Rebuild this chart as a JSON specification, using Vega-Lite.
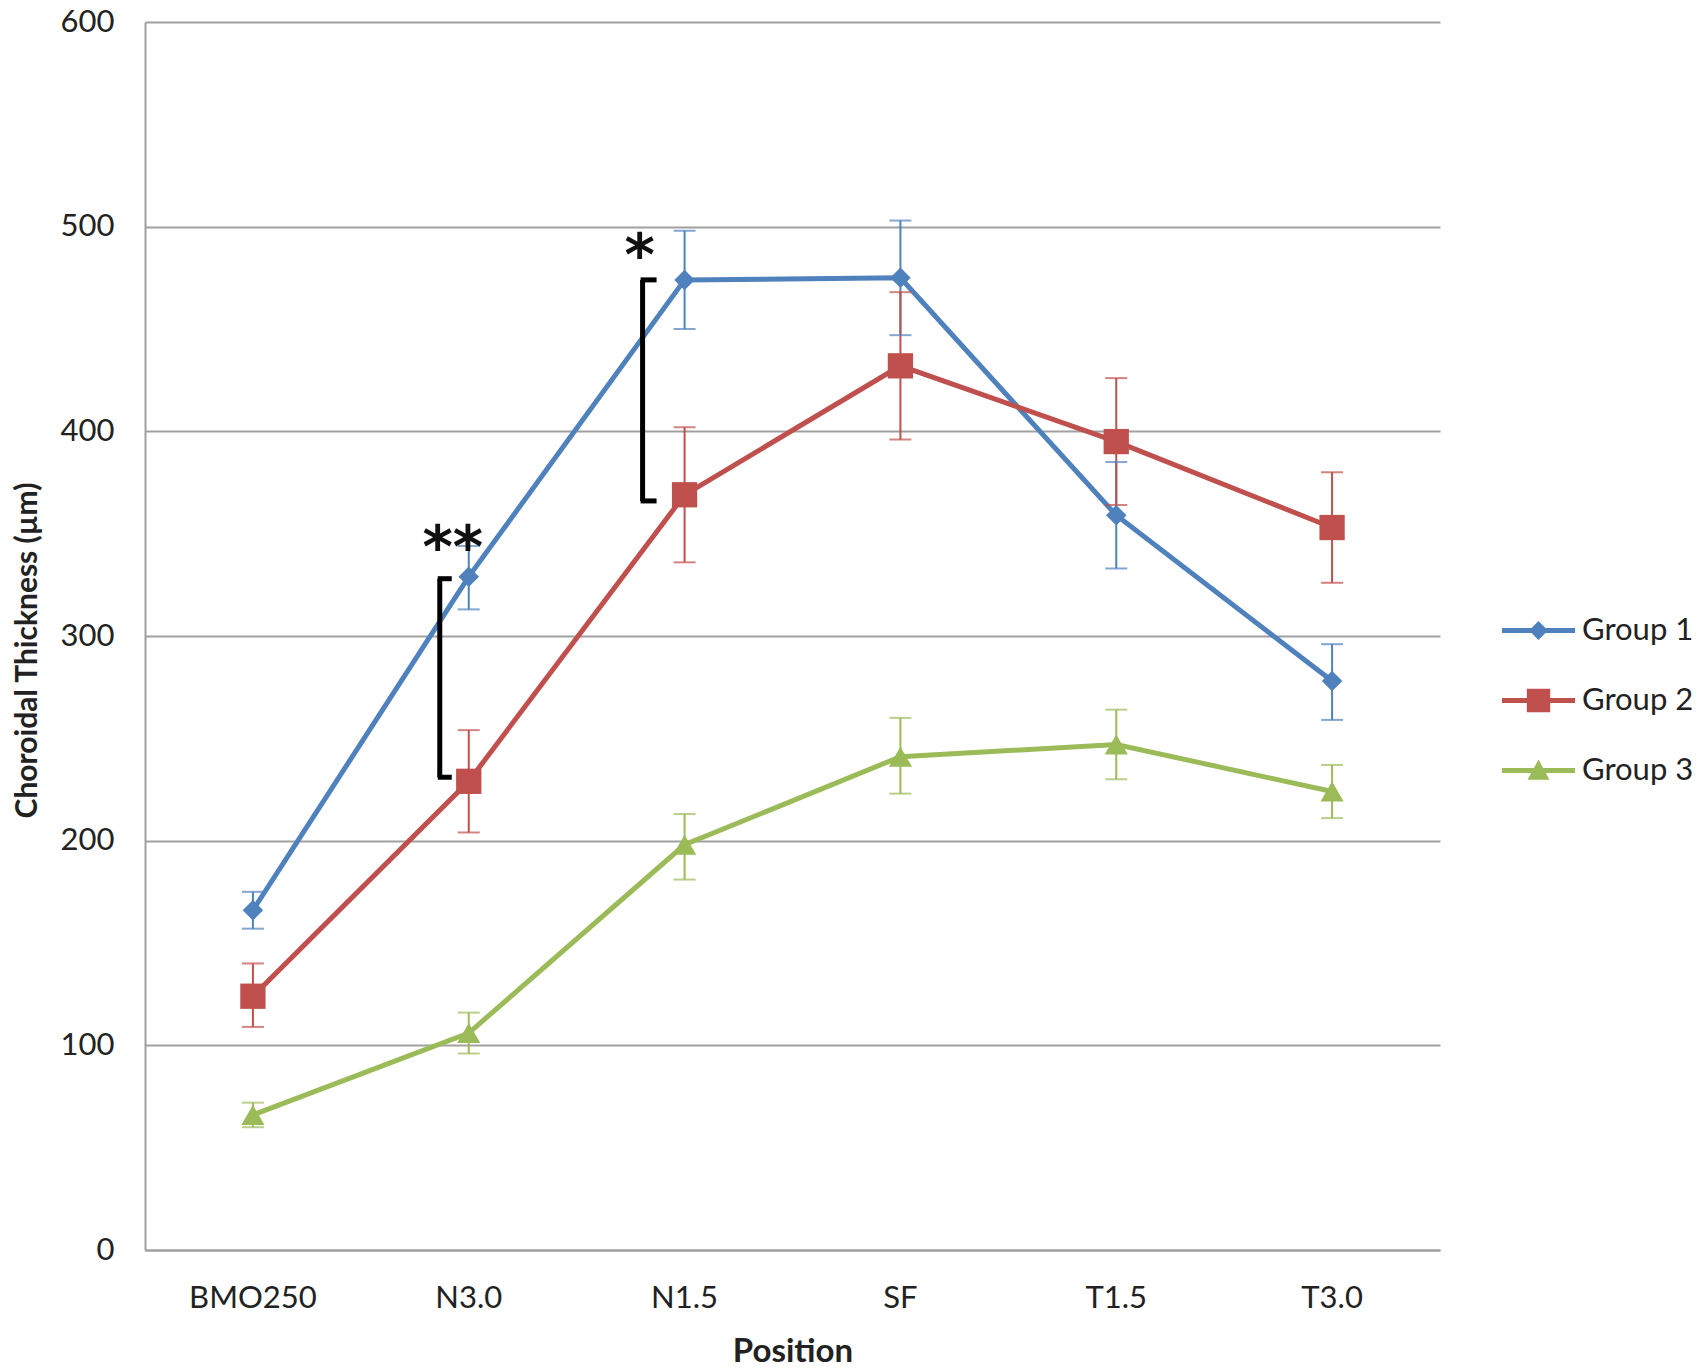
{
  "$schema": "https://vega.github.io/schema/vega-lite/v6.json",
  "width": 1295,
  "height": 1228,
  "autosize": {"type": "none"},
  "padding": {"left": 145, "top": 22, "right": 267, "bottom": 121},
  "background": "white",
  "config": {
    "view": {"stroke": null},
    "font": "Lato",
    "axis": {"labelFont": "Lato", "titleFont": "Lato", "labelColor": "#222222", "titleColor": "#222222"}
  },
  "datasets": {
    "main": [
      {"pos": "BMO250", "group": "Group 1", "mean": 166, "lo": 157, "hi": 175},
      {"pos": "N3.0", "group": "Group 1", "mean": 329, "lo": 313, "hi": 344},
      {"pos": "N1.5", "group": "Group 1", "mean": 474, "lo": 450, "hi": 498},
      {"pos": "SF", "group": "Group 1", "mean": 475, "lo": 447, "hi": 503},
      {"pos": "T1.5", "group": "Group 1", "mean": 359, "lo": 333, "hi": 385},
      {"pos": "T3.0", "group": "Group 1", "mean": 278, "lo": 259, "hi": 296},
      {"pos": "BMO250", "group": "Group 2", "mean": 124, "lo": 109, "hi": 140},
      {"pos": "N3.0", "group": "Group 2", "mean": 229, "lo": 204, "hi": 254},
      {"pos": "N1.5", "group": "Group 2", "mean": 369, "lo": 336, "hi": 402},
      {"pos": "SF", "group": "Group 2", "mean": 432, "lo": 396, "hi": 468},
      {"pos": "T1.5", "group": "Group 2", "mean": 395, "lo": 364, "hi": 426},
      {"pos": "T3.0", "group": "Group 2", "mean": 353, "lo": 326, "hi": 380},
      {"pos": "BMO250", "group": "Group 3", "mean": 66, "lo": 60, "hi": 72},
      {"pos": "N3.0", "group": "Group 3", "mean": 106, "lo": 96, "hi": 116},
      {"pos": "N1.5", "group": "Group 3", "mean": 198, "lo": 181, "hi": 213},
      {"pos": "SF", "group": "Group 3", "mean": 241, "lo": 223, "hi": 260},
      {"pos": "T1.5", "group": "Group 3", "mean": 247, "lo": 230, "hi": 264},
      {"pos": "T3.0", "group": "Group 3", "mean": 224, "lo": 211, "hi": 237}
    ],
    "bracket1": [{"pos": "N3.0", "lo": 231, "hi": 328, "label": "**", "ty": 349}],
    "bracket2": [{"pos": "N1.5", "lo": 366, "hi": 474, "label": "*", "ty": 490}]
  },
  "encoding": {
    "x": {
      "field": "pos", "type": "nominal", "sort": ["BMO250", "N3.0", "N1.5", "SF", "T1.5", "T3.0"],
      "scale": {"paddingInner": 0, "paddingOuter": 0},
      "axis": {"title": "Position", "labelAngle": 0, "labelFontSize": 31, "titleFontSize": 33, "titleFontWeight": "bold",
               "ticks": false, "labelPadding": 33, "titlePadding": 22, "domainColor": "#a0a0a0", "domainWidth": 2}
    }
  },
  "layer": [
    {
      "data": {"name": "main"},
      "layer": [
        {
          "mark": {"type": "line", "strokeWidth": 5},
          "encoding": {
            "y": {"field": "mean", "type": "quantitative",
                  "scale": {"domain": [0, 600], "nice": false},
                  "axis": {"title": "Choroidal Thickness (µm)", "values": [0, 100, 200, 300, 400, 500, 600],
                           "labelFontSize": 31, "titleFontSize": 30, "titleFontWeight": "bold",
                           "ticks": false, "labelPadding": 31, "titlePadding": 18, "titleY": 628,
                           "grid": true, "gridColor": "#a0a0a0", "gridWidth": 2,
                           "domainColor": "#a0a0a0", "domainWidth": 2}},
            "color": {"field": "group", "type": "nominal",
                      "scale": {"domain": ["Group 1", "Group 2", "Group 3"], "range": ["#4F81BD", "#C0504D", "#9BBB59"]},
                      "legend": {
                        "title": null, "orient": "none", "legendX": 1357, "legendY": 572, "padding": 0,
                        "symbolSize": 5329, "labelFontSize": 31, "labelFont": "Lato", "labelColor": "#222222",
                        "labelOffset": 7, "rowPadding": 18,
                        "encode": {
                          "symbols": {
                            "update": {
                              "shape": {"signal": "datum.value === 'Group 1' ? 'M-1,-0.068H1V0.068H-1Z M0,-0.26L0.26,0L0,0.26L-0.26,0Z' : datum.value === 'Group 2' ? 'M-1,-0.068H1V0.068H-1Z M-0.32,-0.32H0.32V0.32H-0.32Z' : 'M-1,-0.068H1V0.068H-1Z M0,-0.3L0.3,0.25L-0.3,0.25Z'"},
                              "fill": {"scale": "color", "field": "value"},
                              "stroke": {"value": "transparent"},
                              "strokeWidth": {"value": 0},
                              "opacity": {"value": 1},
                              "fillOpacity": {"value": 1}
                            }
                          }
                        }
                      }}
          }
        },
        {
          "mark": {"type": "rule", "strokeWidth": 2},
          "encoding": {
            "y": {"field": "lo", "type": "quantitative"},
            "y2": {"field": "hi"},
            "color": {"field": "group", "type": "nominal"}
          }
        },
        {
          "mark": {"type": "tick", "orient": "horizontal", "size": 22, "thickness": 2},
          "encoding": {
            "y": {"field": "lo", "type": "quantitative"},
            "color": {"field": "group", "type": "nominal"}
          }
        },
        {
          "mark": {"type": "tick", "orient": "horizontal", "size": 22, "thickness": 2},
          "encoding": {
            "y": {"field": "hi", "type": "quantitative"},
            "color": {"field": "group", "type": "nominal"}
          }
        },
        {
          "transform": [{"filter": "datum.group === 'Group 1'"}],
          "mark": {"type": "point", "filled": true, "opacity": 1, "shape": "diamond", "size": 420, "color": "#4F81BD"},
          "encoding": {"y": {"field": "mean", "type": "quantitative"}}
        },
        {
          "transform": [{"filter": "datum.group === 'Group 2'"}],
          "mark": {"type": "point", "filled": true, "opacity": 1, "shape": "square", "size": 640, "color": "#C0504D"},
          "encoding": {"y": {"field": "mean", "type": "quantitative"}}
        },
        {
          "transform": [{"filter": "datum.group === 'Group 3'"}],
          "mark": {"type": "point", "filled": true, "opacity": 1, "shape": "triangle-up", "size": 540, "color": "#9BBB59"},
          "encoding": {"y": {"field": "mean", "type": "quantitative"}}
        }
      ]
    },
    {
      "data": {"name": "bracket1"},
      "layer": [
        {"mark": {"type": "rule", "strokeWidth": 5, "color": "black", "xOffset": -29},
         "encoding": {"y": {"field": "lo", "type": "quantitative"}, "y2": {"field": "hi"}}},
        {"mark": {"type": "tick", "orient": "horizontal", "size": 14, "thickness": 5, "color": "black", "xOffset": -24, "opacity": 1},
         "encoding": {"y": {"field": "lo", "type": "quantitative"}}},
        {"mark": {"type": "tick", "orient": "horizontal", "size": 14, "thickness": 5, "color": "black", "xOffset": -24, "opacity": 1},
         "encoding": {"y": {"field": "hi", "type": "quantitative"}}},
        {"mark": {"type": "text", "font": "DejaVu Sans", "fontSize": 58, "fontWeight": "bold", "color": "#111111", "xOffset": -16, "baseline": "middle", "dy": 14},
         "encoding": {"y": {"field": "ty", "type": "quantitative"}, "text": {"field": "label"}}}
      ]
    },
    {
      "data": {"name": "bracket2"},
      "layer": [
        {"mark": {"type": "rule", "strokeWidth": 5, "color": "black", "xOffset": -42},
         "encoding": {"y": {"field": "lo", "type": "quantitative"}, "y2": {"field": "hi"}}},
        {"mark": {"type": "tick", "orient": "horizontal", "size": 16, "thickness": 5, "color": "black", "xOffset": -36, "opacity": 1},
         "encoding": {"y": {"field": "lo", "type": "quantitative"}}},
        {"mark": {"type": "tick", "orient": "horizontal", "size": 16, "thickness": 5, "color": "black", "xOffset": -36, "opacity": 1},
         "encoding": {"y": {"field": "hi", "type": "quantitative"}}},
        {"mark": {"type": "text", "font": "DejaVu Sans", "fontSize": 58, "fontWeight": "bold", "color": "#111111", "xOffset": -45, "baseline": "middle", "dy": 11},
         "encoding": {"y": {"field": "ty", "type": "quantitative"}, "text": {"field": "label"}}}
      ]
    }
  ]
}
